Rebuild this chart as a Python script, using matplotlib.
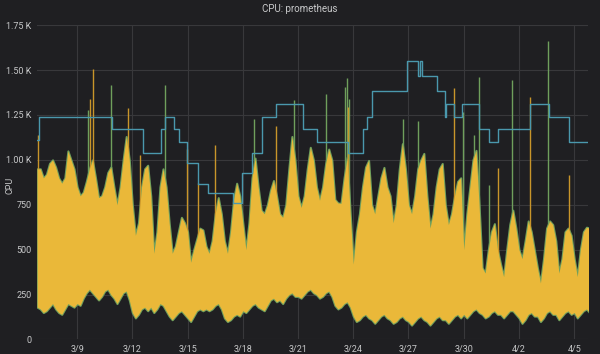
import numpy as np
import matplotlib
matplotlib.use("Agg")
import matplotlib.pyplot as plt
from matplotlib.ticker import FuncFormatter

plt.rcParams["font.family"] = ["Roboto", "DejaVu Sans"]

# ── Data ───────────────────────────────────────────────────────────────────────
# yellow series: upper / lower envelope every 4 h from 2019-03-06 20:00
t0 = np.datetime64("2019-03-06T20:00")
yellow_hi = [
    950,
    950, 900, 920, 980, 1000, 960,      # 3/7
    900, 870, 900, 1050, 1000, 950,     # 3/8
    850, 800, 820, 880, 950, 1000,      # 3/9
    900, 790, 800, 850, 930, 960,       # 3/10
    850, 750, 850, 1000, 1130, 1000,    # 3/11
    750, 580, 650, 850, 950, 970,       # 3/12
    800, 480, 600, 850, 950, 850,       # 3/13
    650, 480, 520, 600, 680, 650,       # 3/14
    600, 430, 500, 560, 620, 610,       # 3/15
    520, 480, 550, 700, 790, 700,       # 3/16
    550, 480, 600, 780, 870, 800,       # 3/17
    650, 500, 650, 900, 1010, 850,      # 3/18
    720, 700, 750, 830, 885, 800,       # 3/19
    700, 680, 750, 950, 1130, 1000,     # 3/20
    800, 735, 800, 950, 1070, 1000,     # 3/21
    850, 775, 850, 980, 1060, 1000,     # 3/22
    780, 760, 758, 900, 1014, 700,      # 3/23
    420, 600, 700, 850, 960, 997,       # 3/24
    750, 700, 800, 900, 958, 850,       # 3/25
    800, 650, 750, 950, 1090, 950,      # 3/26
    750, 700, 800, 950, 1000, 1036,     # 3/27
    800, 620, 700, 850, 950, 980,       # 3/28
    750, 640, 700, 800, 880, 900,       # 3/29
    500, 700, 850, 1000, 1053, 750,     # 3/30
    400, 370, 500, 600, 645, 500,       # 3/31
    420, 350, 500, 640, 720, 620,       # 4/1
    500, 450, 550, 660, 600, 500,       # 4/2
    400, 315, 450, 620, 660, 640,       # 4/3
    550, 370, 450, 600, 620, 580,       # 4/4
    450, 350, 500, 600, 625, 620,       # 4/5
]
yellow_lo = [
    180,
    170, 150, 160, 180, 200, 170,
    150, 140, 170, 200, 190, 180,
    200, 190, 230, 260, 280, 260,
    240, 220, 240, 270, 280, 250,
    230, 200, 230, 260, 270, 220,
    150, 120, 140, 170, 180, 160,
    180, 150, 170, 200, 190, 160,
    130, 110, 130, 150, 160, 140,
    120, 100, 130, 160, 170, 160,
    170, 160, 170, 190, 200, 170,
    120, 100, 110, 130, 140, 130,
    160, 150, 170, 190, 200, 180,
    170, 160, 190, 220, 230, 210,
    220, 200, 230, 250, 260, 240,
    240, 230, 250, 270, 280, 260,
    250, 230, 240, 260, 270, 240,
    190, 170, 180, 200, 210, 180,
    130, 100, 110, 130, 140, 120,
    110, 90, 110, 130, 140, 120,
    110, 90, 100, 120, 130, 110,
    100, 80, 100, 120, 130, 110,
    100, 80, 100, 120, 130, 110,
    110, 90, 110, 130, 140, 120,
    140, 120, 140, 160, 170, 150,
    140, 120, 130, 150, 160, 140,
    140, 120, 140, 160, 160, 140,
    120, 90, 110, 140, 150, 130,
    130, 100, 120, 150, 160, 140,
    140, 110, 130, 150, 160, 140,
    150, 120, 140, 160, 170, 150,
]

# blue step series
blue_times = [
    "2019-03-06T20:00", "2019-03-06T22:00", "2019-03-10T21:30", "2019-03-12T14:00",
    "2019-03-13T13:30", "2019-03-13T18:45", "2019-03-14T06:30", "2019-03-14T13:00",
    "2019-03-14T23:30", "2019-03-15T14:00", "2019-03-16T03:00", "2019-03-17T11:30",
    "2019-03-17T23:20", "2019-03-18T12:20", "2019-03-19T01:00", "2019-03-19T19:40",
    "2019-03-21T06:50", "2019-03-22T01:00", "2019-03-23T17:30", "2019-03-24T13:00",
    "2019-03-24T18:15", "2019-03-25T00:45", "2019-03-26T22:20", "2019-03-27T12:45",
    "2019-03-27T14:30", "2019-03-27T17:00", "2019-03-28T13:40", "2019-03-29T00:00",
    "2019-03-29T01:30", "2019-03-29T11:45", "2019-03-29T22:00", "2019-03-30T20:30",
    "2019-03-31T09:20", "2019-03-31T21:00", "2019-04-02T15:00", "2019-04-03T15:40",
    "2019-04-04T17:45", "2019-04-05T18:00",
]
blue_values = [
    1108, 1236, 1169, 1036, 1169, 1236, 1169, 1097, 980, 864, 814, 758,
    925, 1036, 1236, 1313, 1169, 1102, 1036, 1169, 1236, 1386, 1553, 1469,
    1553, 1469, 1386, 1236, 1313, 1236, 1313, 1169, 1102, 1169, 1313, 1236,
    1102, 1102,
]

# isolated spikes
green_spike_times = [
    "2019-03-09T14:20", "2019-03-10T20:20", "2019-03-13T18:45", "2019-03-18T15:00",
    "2019-03-20T19:00", "2019-03-22T12:45", "2019-03-23T13:30", "2019-03-23T16:00",
    "2019-03-23T18:40", "2019-03-26T17:15", "2019-03-27T12:45", "2019-03-29T23:30",
    "2019-03-30T14:00", "2019-03-30T20:30", "2019-03-31T09:20", "2019-04-01T15:20",
    "2019-04-03T14:30",
]
green_spike_values = [
    1280, 1419, 1419, 1230, 1336, 1364, 1403, 1455,
    1340, 1230, 1219, 1264, 1136, 1464, 858, 1442, 1664,
]
orange_spike_times = [
    "2019-03-06T21:00", "2019-03-09T17:00", "2019-03-09T20:40", "2019-03-11T18:30",
    "2019-03-12T10:00", "2019-03-14T23:00", "2019-03-15T14:00", "2019-03-16T12:00",
    "2019-03-19T19:40", "2019-03-23T17:30", "2019-03-29T11:45", "2019-03-31T21:00",
    "2019-04-02T15:00", "2019-04-04T17:45",
]
orange_spike_values = [
    1140, 1340, 1508, 1286, 1025, 1063, 870, 1080,
    1190, 1297, 1400, 952, 1350, 914,
]

tick_labels = ["3/9", "3/12", "3/15", "3/18", "3/21", "3/24", "3/27", "3/30", "4/2", "4/5"]
tick_dates = ["2019-03-09", "2019-03-12", "2019-03-15", "2019-03-18", "2019-03-21",
              "2019-03-24", "2019-03-27", "2019-03-30", "2019-04-02", "2019-04-05"]

# ── Colours ────────────────────────────────────────────────────────────────────
BG     = "#1f1f22"
GRID   = "#38383b"
TEXT   = "#c8c9ca"
YELLOW = "#eab839"
GREEN  = "#6f9f5c"
ORANGE = "#c8952a"
BLUE   = "#4a98ad"

t = t0 + np.arange(len(yellow_hi)) * np.timedelta64(4, "h")
t = t.astype("datetime64[m]").astype(object)
bt = np.array(blue_times, dtype="datetime64[m]").astype(object)
gt = np.array(green_spike_times, dtype="datetime64[m]").astype(object)
ot = np.array(orange_spike_times, dtype="datetime64[m]").astype(object)

fig = plt.figure(figsize=(6, 3.54), dpi=100, facecolor=BG)
ax = fig.add_axes([0.062, 0.041, 0.918, 0.888], facecolor=BG)

# green rim behind yellow mass
ax.fill_between(t, yellow_lo, yellow_hi, color=GREEN, lw=1.5, edgecolor=GREEN, zorder=2)
ax.vlines(gt, 450, green_spike_values, color=GREEN, lw=1.0, zorder=2.5)
ax.vlines(ot, 450, orange_spike_values, color=ORANGE, lw=1.0, zorder=2.5)
ax.fill_between(t, yellow_lo, yellow_hi, color=YELLOW, lw=0, zorder=3)
ax.step(bt, blue_values, where="post", color=BLUE, lw=1.0, zorder=4)

# ── Axes styling ───────────────────────────────────────────────────────────────
ax.set_xlim(np.datetime64("2019-03-06T20:00").astype(object),
            np.datetime64("2019-04-05T18:00").astype(object))
ax.set_ylim(0, 1750)
ax.set_yticks([0, 250, 500, 750, 1000, 1250, 1500, 1750])
ax.yaxis.set_major_formatter(FuncFormatter(
    lambda v, p: f"{v / 1000:.2f} K" if v >= 1000 else f"{int(v)}"))
ax.set_xticks(np.array(tick_dates, dtype="datetime64[D]").astype(object))
ax.set_xticklabels(tick_labels)

ax.grid(True, color=GRID, lw=0.8, zorder=0)
ax.set_axisbelow(True)
for s in ax.spines.values():
    s.set_visible(False)
ax.tick_params(length=0, colors=TEXT, labelsize=6.5, pad=4)
fig.text(10 / 600, 1 - 185 / 354, "CPU", rotation=90, ha="center", va="center",
         color=TEXT, fontsize=6.5)
fig.text(0.5, 0.975, "CPU: prometheus", ha="center", va="center",
         color=TEXT, fontsize=7)

fig.savefig("out.png", dpi=100, facecolor=BG)
